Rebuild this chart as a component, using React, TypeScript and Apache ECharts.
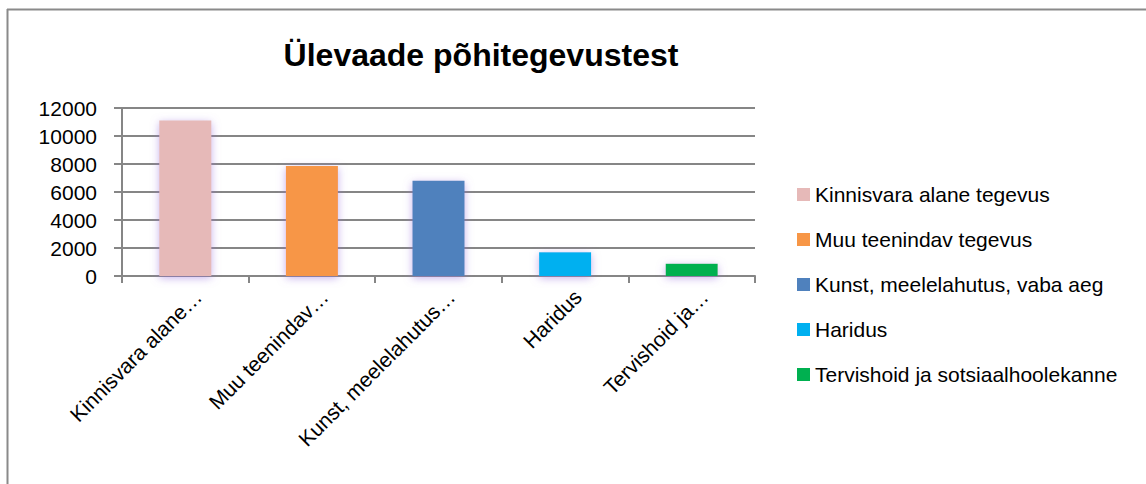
import React, { useEffect, useRef } from "react";
import * as echarts from "echarts";

const titleText = "Ülevaade põhitegevustest";
const categories = [
  "Kinnisvara alane tegevus",
  "Muu teenindav tegevus",
  "Kunst, meelelahutus, vaba aeg",
  "Haridus",
  "Tervishoid ja sotsiaalhoolekanne",
];
const axisLabels = [
  "Kinnisvara alane…",
  "Muu teenindav…",
  "Kunst, meelelahutus…",
  "Haridus",
  "Tervishoid ja…",
];
const values = [11100, 7850, 6800, 1700, 870];
const colors = ["#E6B9B8", "#F79646", "#4F81BD", "#00B0F0", "#00B050"];
const yMin = 0;
const yMax = 12000;
const yStep = 2000;

const FONT = "'Liberation Sans', Arial, sans-serif";

export default function App() {
  const ref = useRef<HTMLDivElement>(null);
  useEffect(() => {
    document.body.style.margin = "0";
    const chart = echarts.init(ref.current!, null, { renderer: "svg" });
    const series = categories.map((name, i) => ({
      name,
      type: "bar",
      stack: "all",
      barWidth: 52,
      data: values.map((v, j) => (j === i ? v : "-")),
      itemStyle: {
        color: colors[i],
        shadowColor: "rgba(150, 110, 220, 0.55)",
        shadowBlur: 8,
        shadowOffsetY: 2,
      },
    }));
    chart.setOption({
      animation: false,
      backgroundColor: "#ffffff",
      textStyle: { fontFamily: FONT },
      title: {
        text: titleText,
        left: 476,
        top: 34,
        textAlign: "center",
        textStyle: { fontFamily: FONT, fontSize: 32, fontWeight: "bold", color: "#000" },
      },
      graphic: [
        { type: "line", shape: { x1: 7, y1: 9.5, x2: 1146, y2: 9.5 }, style: { stroke: "#8a8a8a", lineWidth: 2 } },
        { type: "line", shape: { x1: 7.5, y1: 9, x2: 7.5, y2: 484 }, style: { stroke: "#8a8a8a", lineWidth: 2 } },
      ],
      legend: {
        orient: "vertical",
        left: 792,
        top: 179,
        itemWidth: 13,
        itemHeight: 13,
        itemGap: 24,
        icon: "rect",
        data: categories,
        textStyle: { fontFamily: FONT, fontSize: 21, lineHeight: 21, color: "#000" },
      },
      grid: { left: 122, right: 391, top: 108, bottom: 208, containLabel: false },
      xAxis: {
        type: "category",
        data: axisLabels,
        axisLine: { show: true, lineStyle: { color: "#868686", width: 2 } },
        axisTick: { show: true, length: 7, lineStyle: { color: "#868686", width: 2 } },
        axisLabel: {
          rotate: 45,
          interval: 0,
          margin: 30,
          padding: [0, -18, 0, 0],
          fontFamily: FONT,
          fontSize: 21,
          color: "#000",
        },
      },
      yAxis: {
        type: "value",
        min: yMin,
        max: yMax,
        interval: yStep,
        axisLine: { show: true, lineStyle: { color: "#868686", width: 2 } },
        axisTick: { show: true, length: 8, lineStyle: { color: "#868686", width: 2 } },
        splitLine: { show: true, lineStyle: { color: "#868686", width: 2 } },
        axisLabel: {
          margin: 25,
          fontFamily: FONT,
          fontSize: 21,
          color: "#000",
          formatter: (v: number) => String(v),
        },
      },
      series,
    });
    return () => chart.dispose();
  }, []);
  return (
    <div
      ref={ref}
      style={{ position: "absolute", left: 0, top: 0, width: 1146, height: 484 }}
    />
  );
}
